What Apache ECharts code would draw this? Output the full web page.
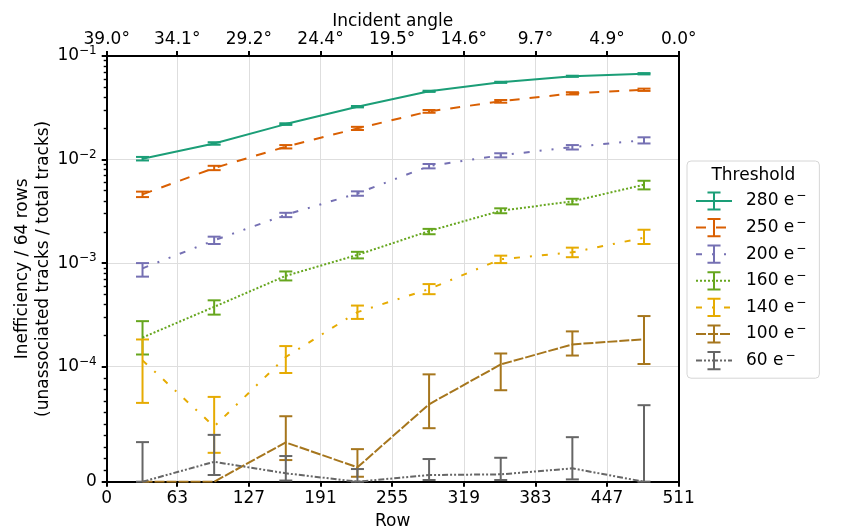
<!DOCTYPE html>
<html>
<head>
<meta charset="utf-8">
<script src="https://cdn.jsdelivr.net/npm/echarts@6/dist/echarts.min.js"></script>
<style>
html, body { margin: 0; padding: 0; background: #fff; }
#chart { width: 845px; height: 530px; }
</style>
</head>
<body>
<div id="chart"></div>
<script>
// row centres of the 64-row blocks
var rows = [32, 96, 160, 224, 288, 352, 416, 480];
var rowTicks = [0, 63, 127, 191, 255, 319, 383, 447, 511];
var angleLabels = ['39.0°', '34.1°', '29.2°', '24.4°', '19.5°', '14.6°', '9.7°', '4.9°', '0.0°'];
var yTicks = [0, 1e-4, 1e-3, 1e-2, 1e-1];
var yTickLabels = ['0', '10{sup|−4}', '10{sup|−3}', '10{sup|−2}', '10{sup|−1}'];

var thresholds = ['280', '250', '200', '160', '140', '100', '60'];
var colors = ['#1b9e77', '#d95f02', '#7570b3', '#66a61e', '#e6ab02', '#a6761d', '#666666'];
var dashes = ['solid', [10, 10], [6, 10, 2, 10, 2, 10], [2, 2], [6, 10, 2, 10], [10, 2], [6, 2, 2, 2, 2, 2]];

// inefficiency and error bar bounds (lo / hi), null = no bar
var ineff280 = [1.02e-2, 1.43e-2, 2.20e-2, 3.24e-2, 4.56e-2, 5.57e-2, 6.37e-2, 6.74e-2];
var lo280 = [0.98e-2, 1.39e-2, 2.16e-2, 3.19e-2, 4.50e-2, 5.50e-2, 6.29e-2, 6.64e-2];
var hi280 = [1.06e-2, 1.47e-2, 2.24e-2, 3.29e-2, 4.62e-2, 5.64e-2, 6.45e-2, 6.84e-2];

var ineff250 = [4.61e-3, 8.28e-3, 1.33e-2, 2.00e-2, 2.92e-2, 3.65e-2, 4.36e-2, 4.72e-2];
var lo250 = [4.34e-3, 7.90e-3, 1.28e-2, 1.93e-2, 2.83e-2, 3.54e-2, 4.25e-2, 4.60e-2];
var hi250 = [4.90e-3, 8.70e-3, 1.38e-2, 2.07e-2, 3.01e-2, 3.76e-2, 4.47e-2, 4.84e-2];

var ineff200 = [8.9e-4, 1.66e-3, 2.93e-3, 4.71e-3, 8.65e-3, 1.10e-2, 1.32e-2, 1.54e-2];
var lo200 = [7.4e-4, 1.53e-3, 2.78e-3, 4.47e-3, 8.22e-3, 1.05e-2, 1.25e-2, 1.43e-2];
var hi200 = [1.0e-3, 1.80e-3, 3.06e-3, 4.93e-3, 9.06e-3, 1.15e-2, 1.38e-2, 1.64e-2];

var ineff160 = [1.91e-4, 3.78e-4, 7.53e-4, 1.20e-3, 2.04e-3, 3.20e-3, 3.95e-3, 5.71e-3];
var lo160 = [1.31e-4, 3.18e-4, 6.8e-4, 1.11e-3, 1.90e-3, 3.03e-3, 3.69e-3, 5.15e-3];
var hi160 = [2.75e-4, 4.37e-4, 8.3e-4, 1.285e-3, 2.14e-3, 3.38e-3, 4.18e-3, 6.24e-3];

var ineff140 = [1.15e-4, 4.8e-5, 1.24e-4, 3.36e-4, 5.61e-4, 1.09e-3, 1.27e-3, 1.76e-3];
var lo140 = [6.85e-5, 2.51e-5, 9.45e-5, 2.89e-4, 5.01e-4, 1.0e-3, 1.14e-3, 1.53e-3];
var hi140 = [1.83e-4, 7.37e-5, 1.58e-4, 3.89e-4, 6.27e-4, 1.18e-3, 1.41e-3, 2.1e-3];

var ineff100 = [0, 0, 3.41e-5, 1.25e-5, 6.73e-5, 1.05e-4, 1.64e-4, 1.84e-4];
var lo100 = [null, null, 1.88e-5, 0.43e-5, 4.65e-5, 7.95e-5, 1.28e-4, 1.06e-4];
var hi100 = [null, null, 5.69e-5, 2.83e-5, 9.33e-5, 1.34e-4, 2.19e-4, 3.08e-4];

var ineff60 = [0, 1.73e-5, 0.73e-5, 0, 0.58e-5, 0.64e-5, 1.16e-5, 0];
var lo60 = [0, 0.58e-5, 0.1e-5, 0, 0.15e-5, 0.15e-5, 0.2e-5, 0];
var hi60 = [3.44e-5, 4.07e-5, 2.23e-5, 1.1e-5, 1.97e-5, 2.08e-5, 3.87e-5, 6.65e-5];

var values = [ineff280, ineff250, ineff200, ineff160, ineff140, ineff100, ineff60];
var lows = [lo280, lo250, lo200, lo160, lo140, lo100, lo60];
var highs = [hi280, hi250, hi200, hi160, hi140, hi100, hi60];

// symlog like matplotlib: linear below linthresh, log above
var linthresh = 1e-4;
var linscale = 1 / (1 - 1 / 10);
function symlog(v) {
    if (v <= linthresh) return v / linthresh * linscale;
    return linscale + Math.log10(v / linthresh);
}

var minorTicks = [];
for (var k = 1; k < 10; k++) minorTicks.push(symlog(k * 1e-5));
[1e-4, 1e-3, 1e-2].forEach(function (d) {
    for (var m = 2; m < 10; m++) minorTicks.push(symlog(m * d));
});
var majorTicks = yTicks.map(symlog);

var font = 'DejaVu Sans';
var errIcon = 'path://M0,10L0,10ZM20,10L20,10ZM3.2,0H16.8V2.1H11.05V17.9H16.8V20H3.2V17.9H8.95V2.1H3.2Z';

function errorBars(color) {
    return function (params, api) {
        var x = api.value(0);
        var p1 = api.coord([x, api.value(1)]);
        var p2 = api.coord([x, api.value(2)]);
        var hw = 6.5;
        var style = { stroke: color, lineWidth: 2, fill: null };
        return {
            type: 'group',
            children: [
                { type: 'line', shape: { x1: p1[0], y1: p1[1], x2: p2[0], y2: p2[1] }, style: style },
                { type: 'line', shape: { x1: p1[0] - hw, y1: p1[1], x2: p1[0] + hw, y2: p1[1] }, style: style },
                { type: 'line', shape: { x1: p2[0] - hw, y1: p2[1], x2: p2[0] + hw, y2: p2[1] }, style: style }
            ]
        };
    };
}

var series = [];
thresholds.forEach(function (name, i) {
    series.push({
        name: name,
        type: 'line',
        data: rows.map(function (r, j) { return [r, symlog(values[i][j])]; }),
        symbol: errIcon,
        showSymbol: false,
        silent: true,
        animation: false,
        lineStyle: { color: colors[i], width: 2, type: dashes[i] },
        itemStyle: { color: colors[i], borderWidth: 0 }
    });
    var bars = [];
    rows.forEach(function (r, j) {
        if (lows[i][j] !== null) bars.push([r, symlog(lows[i][j]), symlog(highs[i][j])]);
    });
    series.push({
        name: name + ' err',
        type: 'custom',
        data: bars,
        silent: true,
        animation: false,
        renderItem: errorBars(colors[i])
    });
});

var axisText = { color: '#000', fontSize: 17, fontFamily: font };
var black = { color: '#000', width: 2 };

var option = {
    animation: false,
    grid: { left: 106.7, right: 166.3, top: 56, bottom: 48.3, containLabel: false, outerBoundsMode: 'none' },
    xAxis: [{
        type: 'value', min: 0, max: 511, position: 'bottom',
        name: 'Row', nameLocation: 'middle', nameGap: 31, nameTextStyle: axisText,
        axisLine: { show: true, onZero: false, lineStyle: black },
        axisTick: { customValues: rowTicks, length: 5, lineStyle: black },
        axisLabel: Object.assign({ customValues: rowTicks, margin: 8 }, axisText),
        splitLine: { show: true, showMinLine: false, showMaxLine: false, lineStyle: { color: '#dedede', width: 1 } }
    }, {
        type: 'value', min: 0, max: 511, position: 'top',
        name: 'Incident angle', nameLocation: 'middle', nameGap: 26, nameMoveOverlap: false, nameTextStyle: axisText,
        axisLine: { show: true, onZero: false, lineStyle: black },
        axisTick: { customValues: rowTicks, length: 5, lineStyle: black },
        axisLabel: Object.assign({
            customValues: rowTicks, margin: 8,
            formatter: function (v) { return angleLabels[rowTicks.indexOf(v)]; }
        }, axisText),
        splitLine: { show: false }
    }],
    yAxis: [{
        type: 'value', min: 0, max: symlog(0.1), position: 'left',
        name: 'Inefficiency / 64 rows\n(unassociated tracks / total tracks)',
        nameLocation: 'middle', nameRotate: 90, nameGap: 53, nameMoveOverlap: false,
        nameTextStyle: Object.assign({ lineHeight: 21 }, axisText),
        axisLine: { show: true, onZero: false, lineStyle: black },
        axisTick: { customValues: majorTicks, length: 5, lineStyle: black },
        axisLabel: Object.assign({
            customValues: majorTicks, margin: 10,
            formatter: function (v) {
                for (var i = 0; i < majorTicks.length; i++) {
                    if (Math.abs(majorTicks[i] - v) < 1e-6) return yTickLabels[i];
                }
                return '';
            },
            rich: { sup: { fontSize: 12, fontFamily: font, color: '#000', padding: [0, 0, 10, 0] } }
        }, axisText),
        splitLine: { show: true, showMinLine: false, showMaxLine: false, lineStyle: { color: '#dedede', width: 1 } }
    }, {
        type: 'value', min: 0, max: symlog(0.1), position: 'left', offset: 0,
        axisLine: { show: false },
        axisTick: { customValues: minorTicks, length: 3, lineStyle: { color: '#000', width: 1.4 } },
        axisLabel: { show: false },
        splitLine: { show: false }
    }, {
        type: 'value', min: 0, max: symlog(0.1), position: 'right', offset: 0,
        axisLine: { show: true, onZero: false, lineStyle: black },
        axisTick: { show: false },
        axisLabel: { show: false },
        splitLine: { show: false }
    }],
    legend: {
        orient: 'vertical', left: 687, top: 161,
        padding: [29, 13, 8, 8],
        itemWidth: 36, itemHeight: 24, itemGap: 6,
        borderColor: '#d6d6d6', borderWidth: 1, borderRadius: 4,
        selectedMode: false,
        data: thresholds,
        formatter: function (n) { return '{n|' + n + ' e}{sup|−}'; },
        textStyle: {
            color: '#000', fontSize: 17, fontFamily: font,
            rich: {
                n: { fontSize: 17, fontFamily: font, color: '#000', padding: [0, 0, 0, 9] },
                sup: { fontSize: 12, fontFamily: font, color: '#000', padding: [0, 0, 10, 2] }
            }
        }
    },
    graphic: [{
        type: 'text', x: 753.3, y: 176,
        style: { text: 'Threshold', fill: '#000', font: '17px "DejaVu Sans"', textAlign: 'center', textVerticalAlign: 'middle' }
    }],
    series: series
};

echarts.init(document.getElementById('chart')).setOption(option);
</script>
</body>
</html>
